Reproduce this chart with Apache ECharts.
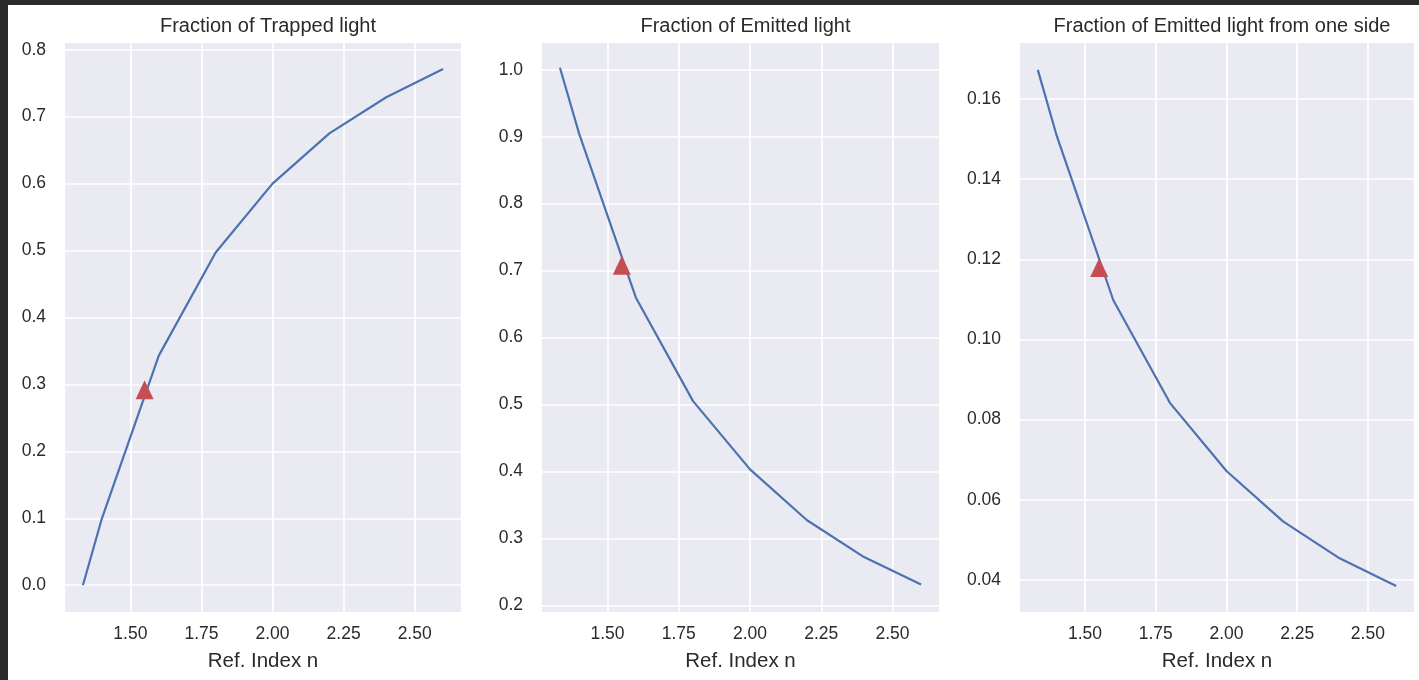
<!DOCTYPE html>
<html>
<head>
<meta charset="utf-8">
<script src="https://cdn.jsdelivr.net/npm/echarts@6/dist/echarts.min.js"></script>
<style>
  html, body { margin: 0; padding: 0; background: #ffffff; }
  #chart { width: 1419px; height: 680px; }
</style>
</head>
<body>
<div id="chart"></div>
<script>
// Refractive index samples and the three light fractions
const refIndex = [1.333, 1.4, 1.6, 1.8, 2.0, 2.2, 2.4, 2.6];
const trapped = [0.0, 0.100, 0.343, 0.497, 0.600, 0.675, 0.729, 0.771];
const emitted = [1.003, 0.905, 0.659, 0.505, 0.403, 0.327, 0.272, 0.231];
const emittedOneSide = [0.1673, 0.1508, 0.1098, 0.0842, 0.0672, 0.0546, 0.0454, 0.0385];

// Highlighted material (n = 1.55)
const markerN = 1.55;
const markerTrapped = 0.292;
const markerEmitted = 0.708;
const markerOneSide = 0.118;

// Tick values
const xTicks = [1.5, 1.75, 2.0, 2.25, 2.5];
const yTicksTrapped = [0.0, 0.1, 0.2, 0.3, 0.4, 0.5, 0.6, 0.7, 0.8];
const yTicksEmitted = [0.2, 0.3, 0.4, 0.5, 0.6, 0.7, 0.8, 0.9, 1.0];
const yTicksOneSide = [0.04, 0.06, 0.08, 0.10, 0.12, 0.14, 0.16];

const titles = ['Fraction of Trapped light', 'Fraction of Emitted light', 'Fraction of Emitted light from one side'];

const FONT = '"Liberation Sans", Arial, sans-serif';
const TEXT = '#2a2a2a';
const LINE = '#4C72B0';
const MARK = '#C44E52';

const panels = [
  { left: 65, width: 396, ys: trapped, ym: markerTrapped, ticks: yTicksTrapped, min: -0.04, max: 0.81, dec: 1 },
  { left: 542, width: 397, ys: emitted, ym: markerEmitted, ticks: yTicksEmitted, min: 0.19, max: 1.04, dec: 1 },
  { left: 1020, width: 394, ys: emittedOneSide, ym: markerOneSide, ticks: yTicksOneSide, min: 0.032, max: 0.174, dec: 2 }
];

const grid = [], xAxis = [], yAxis = [], series = [], title = [];

panels.forEach((p, i) => {
  grid.push({
    left: p.left, width: p.width, top: 43, bottom: 68,
    show: true, backgroundColor: '#EAEAF2', borderWidth: 0
  });
  title.push({
    text: titles[i], left: p.left + p.width / 2, top: 11, textAlign: 'center',
    textStyle: { fontFamily: FONT, fontSize: 20, fontWeight: 'normal', color: TEXT }
  });
  xAxis.push({
    type: 'value', gridIndex: i, min: 1.27, max: 2.663,
    name: 'Ref. Index n', nameLocation: 'middle', nameGap: 39,
    nameTextStyle: { fontFamily: FONT, fontSize: 20.5, color: TEXT },
    axisLine: { show: false },
    axisTick: { show: false, customValues: xTicks },
    axisLabel: {
      customValues: xTicks, margin: 13,
      fontFamily: FONT, fontSize: 17.5, color: TEXT,
      formatter: v => v.toFixed(2)
    },
    splitLine: { show: true, lineStyle: { color: '#ffffff', width: 1.7 } }
  });
  yAxis.push({
    type: 'value', gridIndex: i, min: p.min, max: p.max,
    axisLine: { show: false },
    axisTick: { show: false, customValues: p.ticks },
    axisLabel: {
      customValues: p.ticks, margin: 19,
      fontFamily: FONT, fontSize: 17.5, color: TEXT,
      formatter: v => v.toFixed(p.dec)
    },
    splitLine: { show: true, lineStyle: { color: '#ffffff', width: 1.7 } }
  });
  series.push({
    type: 'line', xAxisIndex: i, yAxisIndex: i,
    data: refIndex.map((n, k) => [n, p.ys[k]]),
    showSymbol: false, symbol: 'none',
    lineStyle: { color: LINE, width: 2.2 },
    silent: true, animation: false, z: 2
  });
  series.push({
    type: 'scatter', xAxisIndex: i, yAxisIndex: i,
    data: [[markerN, p.ym]],
    symbol: 'triangle', symbolSize: [18, 19],
    itemStyle: { color: MARK, opacity: 1 },
    silent: true, animation: false, z: 3
  });
});

const chart = echarts.init(document.getElementById('chart'));
chart.setOption({
  animation: false,
  backgroundColor: '#ffffff',
  title, grid, xAxis, yAxis, series,
  graphic: [
    { type: 'rect', left: 0, top: 0, shape: { width: 1419, height: 5 }, style: { fill: '#2b2b2b' } },
    { type: 'rect', left: 0, top: 0, shape: { width: 8, height: 680 }, style: { fill: '#2b2b2b' } }
  ]
});
</script>
</body>
</html>
